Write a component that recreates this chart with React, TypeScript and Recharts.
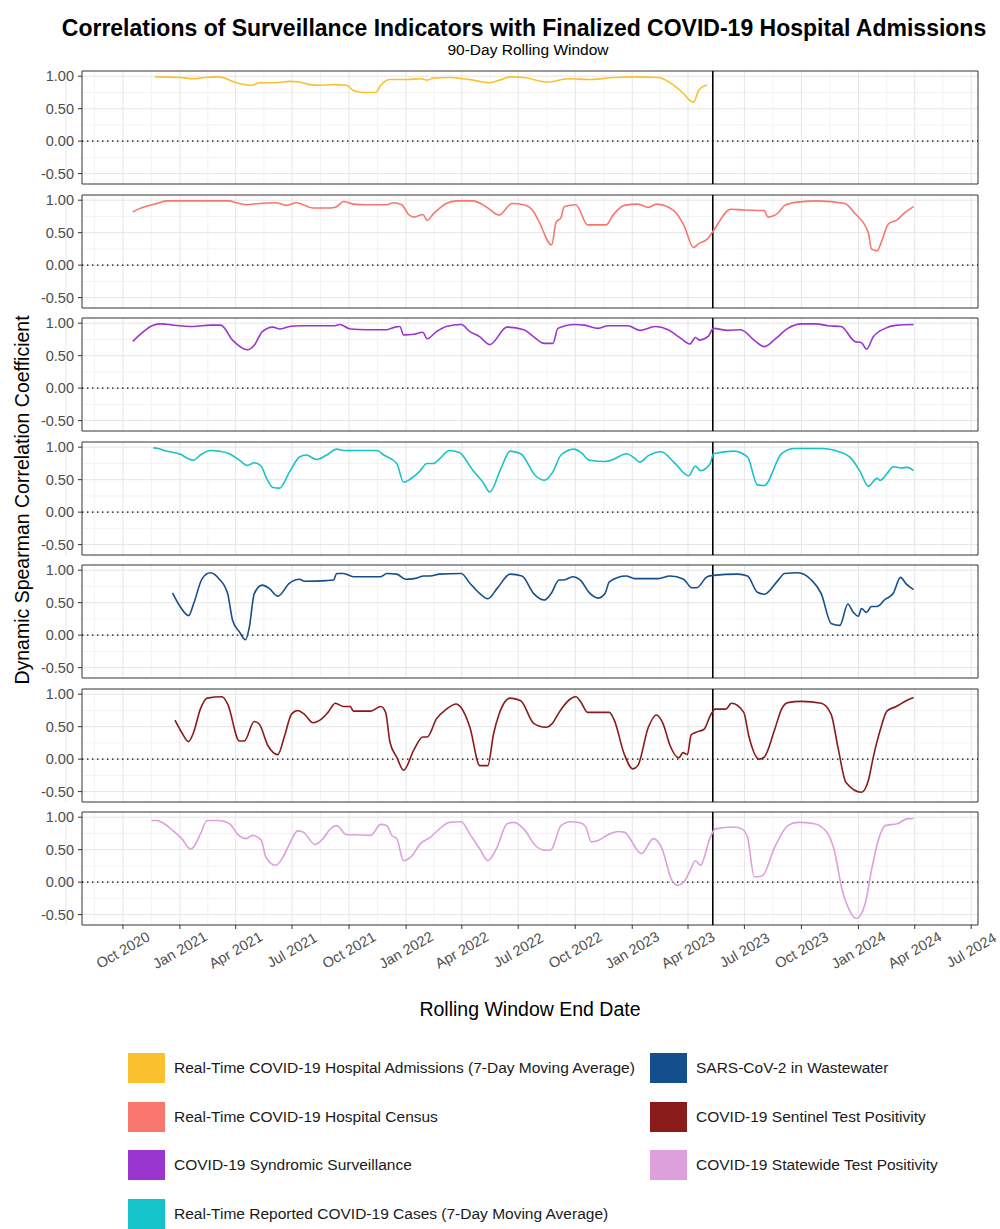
import React from "react";
import { LineChart, Line, XAxis, YAxis, CartesianGrid, ReferenceLine, ReferenceArea } from "recharts";

const FONT = '"Liberation Sans", Arial, Helvetica, sans-serif';

// x axis: quarterly breaks, labels shown from Oct 2020
const gridDates = [
    "2020-07-01", "2020-10-01", "2021-01-01", "2021-04-01", "2021-07-01", "2021-10-01", "2022-01-01", "2022-04-01",
    "2022-07-01", "2022-10-01", "2023-01-01", "2023-04-01", "2023-07-01", "2023-10-01", "2024-01-01", "2024-04-01", "2024-07-01",
];
const tickLabels = [
    "Oct 2020", "Jan 2021", "Apr 2021", "Jul 2021", "Oct 2021", "Jan 2022", "Apr 2022", "Jul 2022",
    "Oct 2022", "Jan 2023", "Apr 2023", "Jul 2023", "Oct 2023", "Jan 2024", "Apr 2024", "Jul 2024",
];
const yTicks = [-0.5, 0, 0.5, 1];
const yMinorTicks = [-0.25, 0.25, 0.75];
const emergencyEnd = "2023-05-11";

const admissionsRealTime: [string, number][] = [
    ["2020-11-22", 0.99], ["2021-01-02", 0.98], ["2021-01-23", 0.96], ["2021-02-09", 0.98], ["2021-03-05", 0.99],
    ["2021-04-02", 0.9], ["2021-04-28", 0.86], ["2021-05-09", 0.9], ["2021-06-05", 0.9], ["2021-06-27", 0.92],
    ["2021-07-13", 0.91], ["2021-07-29", 0.87], ["2021-08-15", 0.86], ["2021-09-06", 0.87], ["2021-09-27", 0.86],
    ["2021-10-08", 0.78], ["2021-10-24", 0.75], ["2021-11-13", 0.75], ["2021-11-21", 0.86], ["2021-12-06", 0.95],
    ["2022-01-03", 0.95], ["2022-01-25", 0.96], ["2022-02-04", 0.94], ["2022-02-14", 0.97], ["2022-03-12", 0.98],
    ["2022-04-03", 0.96], ["2022-04-19", 0.94], ["2022-05-16", 0.9], ["2022-06-01", 0.94], ["2022-06-18", 0.99],
    ["2022-07-10", 0.98], ["2022-08-17", 0.91], ["2022-09-19", 0.96], ["2022-10-27", 0.95], ["2022-12-03", 0.98],
    ["2023-01-05", 0.99], ["2023-02-12", 0.98], ["2023-03-09", 0.86], ["2023-03-25", 0.73], ["2023-04-05", 0.62],
    ["2023-04-10", 0.6], ["2023-04-18", 0.78], ["2023-04-27", 0.85], ["2023-05-02", 0.86],
];

const hospitalCensus: [string, number][] = [
    ["2020-10-17", 0.82], ["2020-10-28", 0.87], ["2020-11-25", 0.95], ["2020-12-10", 0.99], ["2021-02-03", 0.99],
    ["2021-03-22", 0.99], ["2021-04-02", 0.96], ["2021-04-18", 0.93], ["2021-05-09", 0.95], ["2021-06-05", 0.96],
    ["2021-06-22", 0.92], ["2021-07-08", 0.96], ["2021-08-04", 0.88], ["2021-08-31", 0.88], ["2021-09-11", 0.9],
    ["2021-09-22", 0.98], ["2021-10-08", 0.94], ["2021-10-30", 0.93], ["2021-12-01", 0.93], ["2021-12-11", 0.96],
    ["2021-12-25", 0.93], ["2022-01-05", 0.78], ["2022-01-14", 0.74], ["2022-01-28", 0.78], ["2022-02-04", 0.69],
    ["2022-02-14", 0.79], ["2022-03-07", 0.95], ["2022-03-23", 0.99], ["2022-04-19", 0.99], ["2022-05-10", 0.9],
    ["2022-05-31", 0.77], ["2022-06-21", 0.95], ["2022-07-10", 0.93], ["2022-07-26", 0.82], ["2022-08-03", 0.68],
    ["2022-08-24", 0.31], ["2022-08-31", 0.66], ["2022-09-08", 0.73], ["2022-09-13", 0.9], ["2022-10-02", 0.93],
    ["2022-10-21", 0.62], ["2022-11-20", 0.62], ["2022-12-01", 0.77], ["2022-12-19", 0.92], ["2023-01-10", 0.94],
    ["2023-01-27", 0.89], ["2023-02-09", 0.94], ["2023-03-09", 0.84], ["2023-03-25", 0.62], ["2023-04-10", 0.27],
    ["2023-04-18", 0.33], ["2023-05-02", 0.4], ["2023-05-12", 0.53], ["2023-06-09", 0.86], ["2023-06-30", 0.85],
    ["2023-08-02", 0.84], ["2023-08-08", 0.74], ["2023-08-24", 0.8], ["2023-09-04", 0.92], ["2023-09-25", 0.97],
    ["2023-10-28", 0.99], ["2023-12-10", 0.95], ["2023-12-26", 0.8], ["2024-01-17", 0.5], ["2024-01-22", 0.25],
    ["2024-01-31", 0.22], ["2024-02-08", 0.38], ["2024-02-18", 0.63], ["2024-03-04", 0.7], ["2024-03-15", 0.8],
    ["2024-03-30", 0.9],
];

const syndromicSurveillance: [string, number][] = [
    ["2020-10-17", 0.72], ["2020-10-28", 0.82], ["2020-11-19", 0.97], ["2020-12-02", 0.99], ["2020-12-21", 0.97],
    ["2021-01-23", 0.95], ["2021-02-19", 0.97], ["2021-03-08", 0.97], ["2021-03-27", 0.74], ["2021-04-20", 0.59],
    ["2021-05-01", 0.66], ["2021-05-14", 0.87], ["2021-05-31", 0.94], ["2021-06-11", 0.91], ["2021-06-27", 0.95],
    ["2021-07-13", 0.96], ["2021-08-15", 0.96], ["2021-09-06", 0.96], ["2021-09-16", 0.98], ["2021-10-03", 0.91],
    ["2021-10-30", 0.9], ["2021-12-01", 0.9], ["2021-12-14", 0.94], ["2021-12-22", 0.95], ["2021-12-28", 0.82],
    ["2022-01-14", 0.83], ["2022-01-28", 0.86], ["2022-02-04", 0.76], ["2022-02-19", 0.87], ["2022-03-07", 0.95],
    ["2022-03-31", 0.98], ["2022-04-14", 0.87], ["2022-04-30", 0.79], ["2022-05-16", 0.67], ["2022-06-13", 0.94],
    ["2022-07-10", 0.9], ["2022-07-26", 0.79], ["2022-08-12", 0.69], ["2022-08-26", 0.69], ["2022-09-03", 0.92],
    ["2022-09-30", 0.98], ["2022-10-16", 0.97], ["2022-11-07", 0.92], ["2022-11-23", 0.96], ["2022-12-25", 0.96],
    ["2023-01-13", 0.89], ["2023-02-07", 0.95], ["2023-02-28", 0.9], ["2023-03-20", 0.77], ["2023-04-04", 0.68],
    ["2023-04-13", 0.78], ["2023-04-20", 0.74], ["2023-05-04", 0.8], ["2023-05-12", 0.92], ["2023-06-04", 0.89],
    ["2023-06-25", 0.9], ["2023-07-19", 0.72], ["2023-08-02", 0.64], ["2023-08-19", 0.75], ["2023-09-09", 0.92],
    ["2023-10-01", 0.99], ["2023-10-25", 0.99], ["2023-11-13", 0.96], ["2023-12-04", 0.95], ["2023-12-26", 0.72],
    ["2024-01-06", 0.7], ["2024-01-14", 0.6], ["2024-01-25", 0.79], ["2024-02-13", 0.92], ["2024-03-04", 0.97],
    ["2024-03-30", 0.98],
];

const reportedCases: [string, number][] = [
    ["2020-11-19", 0.99], ["2020-11-27", 0.98], ["2020-12-10", 0.94], ["2021-01-02", 0.89], ["2021-01-15", 0.82],
    ["2021-01-23", 0.8], ["2021-02-03", 0.88], ["2021-02-19", 0.95], ["2021-03-05", 0.94], ["2021-03-22", 0.9],
    ["2021-04-07", 0.8], ["2021-04-20", 0.72], ["2021-05-01", 0.76], ["2021-05-12", 0.71], ["2021-05-20", 0.54],
    ["2021-05-31", 0.38], ["2021-06-11", 0.37], ["2021-06-27", 0.62], ["2021-07-13", 0.85], ["2021-07-24", 0.88],
    ["2021-08-09", 0.81], ["2021-08-26", 0.88], ["2021-09-11", 0.97], ["2021-09-22", 0.95], ["2021-11-15", 0.95],
    ["2021-11-26", 0.88], ["2021-12-17", 0.75], ["2021-12-28", 0.46], ["2022-01-08", 0.51], ["2022-01-22", 0.62],
    ["2022-02-04", 0.75], ["2022-02-14", 0.75], ["2022-02-24", 0.82], ["2022-03-12", 0.95], ["2022-03-28", 0.92],
    ["2022-04-19", 0.64], ["2022-05-05", 0.46], ["2022-05-16", 0.31], ["2022-06-03", 0.67], ["2022-06-18", 0.94],
    ["2022-07-05", 0.9], ["2022-07-29", 0.56], ["2022-08-12", 0.49], ["2022-08-26", 0.62], ["2022-09-08", 0.88],
    ["2022-09-29", 0.97], ["2022-10-10", 0.92], ["2022-10-24", 0.8], ["2022-11-18", 0.78], ["2022-12-03", 0.82],
    ["2022-12-22", 0.9], ["2023-01-05", 0.83], ["2023-01-13", 0.77], ["2023-01-27", 0.87], ["2023-02-17", 0.93],
    ["2023-03-09", 0.77], ["2023-04-02", 0.56], ["2023-04-13", 0.71], ["2023-04-21", 0.64], ["2023-05-07", 0.75],
    ["2023-05-12", 0.9], ["2023-06-14", 0.94], ["2023-07-06", 0.85], ["2023-07-22", 0.42], ["2023-08-02", 0.41],
    ["2023-08-30", 0.9], ["2023-09-20", 0.98], ["2023-11-02", 0.98], ["2023-12-04", 0.92], ["2023-12-21", 0.82],
    ["2024-01-04", 0.62], ["2024-01-17", 0.4], ["2024-01-31", 0.52], ["2024-02-05", 0.49], ["2024-02-16", 0.59],
    ["2024-02-26", 0.7], ["2024-03-10", 0.68], ["2024-03-20", 0.69], ["2024-03-30", 0.64],
];

const wastewater: [string, number][] = [
    ["2020-12-20", 0.65], ["2021-01-02", 0.43], ["2021-01-15", 0.3], ["2021-01-23", 0.48], ["2021-02-06", 0.87],
    ["2021-02-19", 0.96], ["2021-03-05", 0.87], ["2021-03-19", 0.64], ["2021-03-27", 0.23], ["2021-04-07", 0.05],
    ["2021-04-17", -0.07], ["2021-04-23", 0.12], ["2021-05-01", 0.64], ["2021-05-14", 0.77], ["2021-05-25", 0.72],
    ["2021-06-08", 0.6], ["2021-06-27", 0.8], ["2021-07-13", 0.86], ["2021-07-21", 0.83], ["2021-08-26", 0.84],
    ["2021-09-06", 0.85], ["2021-09-11", 0.95], ["2021-09-22", 0.95], ["2021-10-08", 0.9], ["2021-11-21", 0.9],
    ["2021-12-01", 0.95], ["2021-12-17", 0.94], ["2021-12-31", 0.86], ["2022-01-14", 0.87], ["2022-01-30", 0.91],
    ["2022-02-09", 0.91], ["2022-02-24", 0.94], ["2022-03-31", 0.95], ["2022-04-14", 0.8], ["2022-04-30", 0.64],
    ["2022-05-13", 0.56], ["2022-05-28", 0.72], ["2022-06-18", 0.94], ["2022-07-07", 0.91], ["2022-07-26", 0.64],
    ["2022-08-12", 0.54], ["2022-08-23", 0.64], ["2022-09-05", 0.85], ["2022-09-13", 0.85], ["2022-09-27", 0.9],
    ["2022-10-10", 0.84], ["2022-10-24", 0.65], ["2022-11-07", 0.57], ["2022-11-18", 0.64], ["2022-11-25", 0.82],
    ["2022-12-22", 0.91], ["2023-01-05", 0.87], ["2023-02-12", 0.87], ["2023-03-03", 0.91], ["2023-03-25", 0.86],
    ["2023-04-07", 0.73], ["2023-04-15", 0.73], ["2023-05-02", 0.9], ["2023-05-12", 0.92], ["2023-06-20", 0.94],
    ["2023-07-06", 0.91], ["2023-07-22", 0.66], ["2023-08-02", 0.63], ["2023-08-24", 0.84], ["2023-09-04", 0.95],
    ["2023-09-25", 0.96], ["2023-10-17", 0.85], ["2023-11-02", 0.64], ["2023-11-18", 0.18], ["2023-12-02", 0.15],
    ["2023-12-15", 0.48], ["2023-12-23", 0.36], ["2024-01-01", 0.29], ["2024-01-06", 0.41], ["2024-01-14", 0.35],
    ["2024-01-22", 0.44], ["2024-01-31", 0.44], ["2024-02-13", 0.55], ["2024-02-26", 0.64], ["2024-03-09", 0.89],
    ["2024-03-18", 0.79], ["2024-03-30", 0.7],
];

const sentinelPositivity: [string, number][] = [
    ["2020-12-24", 0.6], ["2021-01-04", 0.41], ["2021-01-15", 0.27], ["2021-01-23", 0.41], ["2021-02-03", 0.77],
    ["2021-02-14", 0.94], ["2021-03-10", 0.96], ["2021-03-19", 0.85], ["2021-04-07", 0.28], ["2021-04-15", 0.28],
    ["2021-05-01", 0.58], ["2021-05-09", 0.54], ["2021-05-23", 0.21], ["2021-06-08", 0.07], ["2021-06-19", 0.36],
    ["2021-06-30", 0.69], ["2021-07-10", 0.75], ["2021-07-21", 0.69], ["2021-08-04", 0.56], ["2021-08-15", 0.6],
    ["2021-08-28", 0.72], ["2021-09-09", 0.86], ["2021-09-22", 0.81], ["2021-10-03", 0.81], ["2021-10-08", 0.74],
    ["2021-11-05", 0.74], ["2021-11-21", 0.81], ["2021-11-29", 0.72], ["2021-12-06", 0.26], ["2021-12-17", 0.03],
    ["2021-12-28", -0.17], ["2022-01-14", 0.15], ["2022-01-28", 0.34], ["2022-02-04", 0.34], ["2022-02-19", 0.62],
    ["2022-03-07", 0.77], ["2022-03-23", 0.85], ["2022-03-31", 0.79], ["2022-04-14", 0.49], ["2022-04-30", -0.1],
    ["2022-05-13", -0.1], ["2022-05-22", 0.38], ["2022-05-31", 0.69], ["2022-06-18", 0.94], ["2022-07-05", 0.9],
    ["2022-07-26", 0.55], ["2022-08-14", 0.49], ["2022-08-26", 0.56], ["2022-09-03", 0.69], ["2022-10-02", 0.96],
    ["2022-10-10", 0.88], ["2022-10-21", 0.72], ["2022-11-25", 0.72], ["2022-12-03", 0.6], ["2022-12-19", 0.08],
    ["2023-01-02", -0.15], ["2023-01-10", -0.1], ["2023-01-27", 0.49], ["2023-02-09", 0.68], ["2023-02-20", 0.54],
    ["2023-03-03", 0.21], ["2023-03-17", 0.02], ["2023-03-24", 0.1], ["2023-03-31", 0.07], ["2023-04-06", 0.37],
    ["2023-04-13", 0.41], ["2023-04-27", 0.46], ["2023-05-07", 0.67], ["2023-05-15", 0.77], ["2023-06-01", 0.77],
    ["2023-06-10", 0.86], ["2023-06-30", 0.72], ["2023-07-08", 0.36], ["2023-07-25", 0.0], ["2023-08-02", 0.03],
    ["2023-08-19", 0.46], ["2023-08-30", 0.77], ["2023-09-09", 0.87], ["2023-10-01", 0.89], ["2023-11-02", 0.86],
    ["2023-11-18", 0.69], ["2023-11-29", 0.18], ["2023-12-12", -0.36], ["2024-01-06", -0.51], ["2024-01-17", -0.33],
    ["2024-01-25", 0.03], ["2024-02-05", 0.44], ["2024-02-16", 0.74], ["2024-03-02", 0.81], ["2024-03-18", 0.9],
    ["2024-03-30", 0.95],
];

const statewidePositivity: [string, number][] = [
    ["2020-11-16", 0.95], ["2020-11-25", 0.95], ["2020-12-05", 0.91], ["2020-12-21", 0.79], ["2021-01-04", 0.67],
    ["2021-01-18", 0.51], ["2021-01-23", 0.54], ["2021-02-03", 0.74], ["2021-02-14", 0.95], ["2021-03-05", 0.95],
    ["2021-03-22", 0.9], ["2021-04-04", 0.74], ["2021-04-18", 0.67], ["2021-04-28", 0.72], ["2021-05-12", 0.65],
    ["2021-05-20", 0.38], ["2021-06-05", 0.26], ["2021-06-16", 0.38], ["2021-06-27", 0.59], ["2021-07-10", 0.79],
    ["2021-07-19", 0.77], ["2021-08-07", 0.58], ["2021-08-20", 0.67], ["2021-08-31", 0.81], ["2021-09-11", 0.87],
    ["2021-09-27", 0.73], ["2021-10-08", 0.73], ["2021-11-05", 0.72], ["2021-11-21", 0.89], ["2021-12-01", 0.87],
    ["2021-12-09", 0.72], ["2021-12-17", 0.67], ["2021-12-28", 0.33], ["2022-01-08", 0.38], ["2022-01-25", 0.6],
    ["2022-02-09", 0.69], ["2022-02-24", 0.82], ["2022-03-12", 0.92], ["2022-03-31", 0.93], ["2022-04-14", 0.74],
    ["2022-04-30", 0.51], ["2022-05-13", 0.33], ["2022-05-28", 0.54], ["2022-06-13", 0.9], ["2022-06-24", 0.92],
    ["2022-07-10", 0.82], ["2022-07-29", 0.56], ["2022-08-14", 0.49], ["2022-08-23", 0.5], ["2022-09-08", 0.87],
    ["2022-09-24", 0.93], ["2022-10-10", 0.91], ["2022-10-18", 0.85], ["2022-10-27", 0.62], ["2022-11-07", 0.64],
    ["2022-11-23", 0.73], ["2022-12-09", 0.78], ["2022-12-19", 0.77], ["2023-01-16", 0.44], ["2023-02-04", 0.67],
    ["2023-02-17", 0.54], ["2023-03-06", 0.03], ["2023-03-15", -0.05], ["2023-03-25", 0.0], ["2023-04-02", 0.13],
    ["2023-04-13", 0.33], ["2023-04-21", 0.26], ["2023-05-07", 0.69], ["2023-05-15", 0.82], ["2023-06-14", 0.85],
    ["2023-06-27", 0.82], ["2023-07-06", 0.69], ["2023-07-17", 0.08], ["2023-07-30", 0.1], ["2023-08-19", 0.54],
    ["2023-09-09", 0.87], ["2023-09-25", 0.92], ["2023-10-22", 0.9], ["2023-11-13", 0.74], ["2023-11-23", 0.49],
    ["2023-12-06", -0.13], ["2023-12-15", -0.38], ["2023-12-29", -0.56], ["2024-01-12", -0.33], ["2024-01-22", 0.18],
    ["2024-02-02", 0.64], ["2024-02-13", 0.87], ["2024-03-04", 0.9], ["2024-03-18", 0.97], ["2024-03-30", 0.98],
];

const indicators = [
    { name: "Real-Time COVID-19 Hospital Admissions (7-Day Moving Average)", color: "#FBC02D", points: admissionsRealTime },
    { name: "Real-Time COVID-19 Hospital Census", color: "#F8766D", points: hospitalCensus },
    { name: "COVID-19 Syndromic Surveillance", color: "#9B35D0", points: syndromicSurveillance },
    { name: "Real-Time Reported COVID-19 Cases (7-Day Moving Average)", color: "#17C3CB", points: reportedCases },
    { name: "SARS-CoV-2 in Wastewater", color: "#154E8C", points: wastewater },
    { name: "COVID-19 Sentinel Test Positivity", color: "#8B1A1A", points: sentinelPositivity },
    { name: "COVID-19 Statewide Test Positivity", color: "#DDA0DD", points: statewidePositivity },
];

const toT = (d: string) => Date.parse(d + "T00:00:00Z");
const X_DOMAIN = [toT("2020-07-27"), toT("2024-07-12")];
const Y_DOMAIN = [-0.66, 1.08];
const majorX = gridDates.map(toT);
const minorX = majorX.slice(1).map((t, i) => (t + majorX[i]) / 2);
const tickTs = majorX.slice(1);

const PANEL_TOP = 71;
const PANEL_PITCH = 123.5;
const PANEL_H = 113;
const PAD = 4;
const AXIS_H = 58;
const TICK_FONT = 14.5;

function DateTick(props: any) {
    const { x, y, payload } = props;
    const label = tickLabels[tickTs.indexOf(payload.value)];
    const cy = y + 19;
    return (
        <text
            x={x}
            y={cy}
            textAnchor="middle"
            dominantBaseline="central"
            transform={`rotate(-30 ${x} ${cy})`}
            fill="#4D4D4D"
            fontSize={TICK_FONT}
            fontFamily={FONT}
        >
            {label}
        </text>
    );
}

function Panel({ index }: { index: number }) {
    const ind = indicators[index];
    const last = index === indicators.length - 1;
    const data = ind.points.map(([d, v]) => ({ t: toT(d), v }));
    const top = PANEL_TOP + Math.round(PANEL_PITCH * index) - PAD;
    return (
        <div style={{ position: "absolute", left: 0, top }}>
            <LineChart
                width={1000}
                height={PANEL_H + PAD * 2 + (last ? AXIS_H : 0)}
                data={data}
                margin={{ top: PAD, right: 22, bottom: PAD, left: 32 }}
            >
                <CartesianGrid stroke="#F3F3F3" verticalValues={minorX} horizontalValues={yMinorTicks} />
                <CartesianGrid stroke="#E5E5E5" verticalValues={majorX} horizontalValues={yTicks} />
                <XAxis
                    type="number"
                    dataKey="t"
                    domain={X_DOMAIN}
                    ticks={tickTs}
                    interval={0}
                    allowDataOverflow
                    hide={!last}
                    height={AXIS_H}
                    axisLine={false}
                    tickSize={4}
                    tickLine={{ stroke: "#333333" }}
                    tick={<DateTick />}
                />
                <YAxis
                    type="number"
                    domain={Y_DOMAIN}
                    ticks={yTicks}
                    interval={0}
                    allowDataOverflow
                    width={50}
                    axisLine={false}
                    tickSize={4}
                    tickMargin={4}
                    tickLine={{ stroke: "#333333" }}
                    tickFormatter={(v: number) => v.toFixed(2)}
                    tick={{ fill: "#4D4D4D", fontSize: TICK_FONT, fontFamily: FONT }}
                />
                <ReferenceLine y={0} stroke="#000000" strokeWidth={1.4} strokeDasharray="1.4 3.6" />
                <ReferenceLine x={toT(emergencyEnd)} stroke="#000000" strokeWidth={1.6} />
                <Line
                    type="monotone"
                    dataKey="v"
                    stroke={ind.color}
                    strokeWidth={1.6}
                    dot={false}
                    isAnimationActive={false}
                />
                <ReferenceArea
                    x1={X_DOMAIN[0]}
                    x2={X_DOMAIN[1]}
                    y1={Y_DOMAIN[0]}
                    y2={Y_DOMAIN[1]}
                    fill="none"
                    fillOpacity={0}
                    stroke="#333333"
                    strokeWidth={1}
                />
            </LineChart>
        </div>
    );
}

function LegendItem({ name, color }: { name: string; color: string }) {
    return (
        <div style={{ display: "flex", alignItems: "center", height: 48.5 }}>
            <span style={{ width: 37, height: 30, background: color, display: "inline-block", flexShrink: 0 }} />
            <span style={{ marginLeft: 9, fontSize: 15.5, color: "#1A1A1A" }}>{name}</span>
        </div>
    );
}

export default function App() {
    const left = indicators.slice(0, 4);
    const right = indicators.slice(4);
    return (
        <div style={{ position: "absolute", left: 0, top: 0, width: 1000, height: 1229, background: "#fff", fontFamily: FONT }}>
            <div style={{ position: "absolute", top: 15, left: 0, width: 1048, textAlign: "center", fontSize: 23, fontWeight: "bold", color: "#000", whiteSpace: "nowrap" }}>
                Correlations of Surveillance Indicators with Finalized COVID-19 Hospital Admissions
            </div>
            <div style={{ position: "absolute", top: 41, left: 0, width: 1056, textAlign: "center", fontSize: 15.5, color: "#000" }}>
                90-Day Rolling Window
            </div>
            <div
                style={{
                    position: "absolute",
                    left: 22,
                    top: 500,
                    transform: "translate(-50%, -50%) rotate(-90deg)",
                    whiteSpace: "nowrap",
                    fontSize: 19.5,
                    color: "#000",
                }}
            >
                Dynamic Spearman Correlation Coefficient
            </div>
            {indicators.map((_, i) => (
                <Panel key={i} index={i} />
            ))}
            <div style={{ position: "absolute", top: 998, left: 0, width: 1060, textAlign: "center", fontSize: 19.5, color: "#000" }}>
                Rolling Window End Date
            </div>
            <div style={{ position: "absolute", top: 1044, left: 128 }}>
                {left.map((d) => (
                    <LegendItem key={d.name} name={d.name} color={d.color} />
                ))}
            </div>
            <div style={{ position: "absolute", top: 1044, left: 650 }}>
                {right.map((d) => (
                    <LegendItem key={d.name} name={d.name} color={d.color} />
                ))}
            </div>
        </div>
    );
}
